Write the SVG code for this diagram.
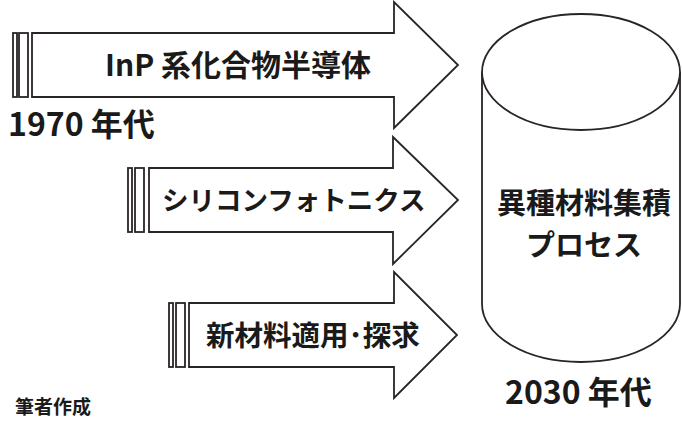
<svg xmlns="http://www.w3.org/2000/svg" width="682" height="421" viewBox="0 0 682 421">
<style>
.s{fill:#fff;stroke:#2a2424;stroke-width:1.8;stroke-linejoin:miter}
.t{font-family:"Noto Sans CJK JP","Noto Sans",sans-serif;fill:#1a1a1a}
.m{font-weight:600}
.b{font-weight:700}
</style>
<rect width="682" height="421" fill="#fff"/>
<g id="arrow-inp">
<rect class="s" x="13" y="33" width="4" height="64"/>
<rect class="s" x="19" y="33" width="9" height="64"/>
<polygon class="s" points="32,33 394,33 394,2 458,65 394,128 394,97 32,97"/>
<text class="t m" x="105" y="76" font-size="30">InP 系化合物半導体</text>
</g>
<g id="label-1970">
<text class="t b" x="8" y="136" font-size="32">1970 年代</text>
</g>
<g id="arrow-si">
<rect class="s" x="128" y="168" width="4" height="64"/>
<rect class="s" x="135" y="168" width="9" height="64"/>
<polygon class="s" points="149,168 393,168 393,137 458,200 393,264 393,232 149,232"/>
<text class="t m" x="162" y="210" font-size="26.5">シリコンフォトニクス</text>
</g>
<g id="arrow-new">
<rect class="s" x="169" y="303" width="4" height="64"/>
<rect class="s" x="176" y="303" width="9" height="64"/>
<polygon class="s" points="189,303 394,303 394,272 457,335 394,398 394,367 189,367"/>
<text class="t m" x="206" y="346" font-size="28.5">新材料適用･探求</text>
</g>
<g id="cylinder">
<path class="s" d="M482,72 L482,304 A99,58 0 0 0 680,304 L680,72"/>
<ellipse class="s" cx="581" cy="72" rx="99" ry="58"/>
<text class="t m" x="584" y="214" font-size="29" text-anchor="middle">異種材料集積</text>
<text class="t m" x="584" y="256" font-size="29" text-anchor="middle">プロセス</text>
</g>
<g id="label-2030">
<text class="t b" x="505" y="404" font-size="32">2030 年代</text>
</g>
<g id="credit">
<text class="t b" x="15" y="414" font-size="19">筆者作成</text>
</g>
<g id="connectors"/>
</svg>
